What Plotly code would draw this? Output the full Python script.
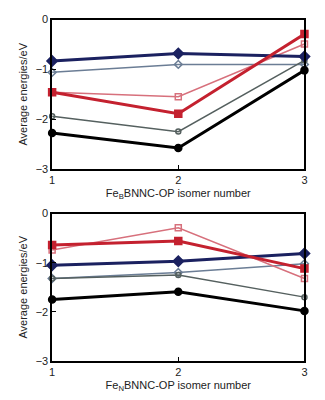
import plotly.graph_objects as go
from plotly.subplots import make_subplots

isomers = [1, 2, 3]

# Top panel (Fe_B BNNC-OP)
top_navy = [-0.83, -0.68, -0.74]
top_steel = [-1.06, -0.90, -0.90]
top_red = [-1.46, -1.89, -0.29]
top_pink = [-1.46, -1.55, -0.49]
top_gray = [-1.94, -2.25, -0.82]
top_black = [-2.28, -2.58, -1.02]

# Bottom panel (Fe_N BNNC-OP)
bot_navy = [-1.05, -0.97, -0.81]
bot_steel = [-1.32, -1.20, -1.02]
bot_red = [-0.64, -0.56, -1.12]
bot_pink = [-0.74, -0.29, -1.32]
bot_gray = [-1.32, -1.25, -1.70]
bot_black = [-1.75, -1.59, -1.98]

yticks = [0, -1, -2, -3]
ytick_text = ["0", "\u22121", "\u22122", "\u22123"]

styles = [
    # (color, width, symbol, size)
    ("#6b7d95", 1.5, "diamond-open", 6),   # steel
    ("#d7707c", 1.5, "square-open", 6),    # pink
    ("#55605f", 1.5, "circle-open", 5),    # gray
    ("#1b2160", 3, "diamond", 8),          # navy
    ("#c4212f", 3, "square", 7),           # red
    ("#000000", 3, "circle", 7),           # black
]

fig = make_subplots(rows=2, cols=1)

def add_panel(row, series):
    for (c, w, sym, sz), ys in zip(styles, series):
        fig.add_trace(go.Scatter(
            x=isomers, y=ys, mode="lines+markers",
            line=dict(color=c, width=w),
            marker=dict(symbol=sym, size=sz, color=c,
                        line=dict(color=c, width=1.5)),
            cliponaxis=False, showlegend=False), row=row, col=1)

add_panel(1, [top_steel, top_pink, top_gray, top_navy, top_red, top_black])
add_panel(2, [bot_steel, bot_pink, bot_gray, bot_navy, bot_red, bot_black])

font = dict(family="Liberation Sans, Arial, sans-serif", size=11, color="#222")
axis_common = dict(showline=True, mirror=True, linecolor="black", linewidth=1.5,
                   showgrid=False, zeroline=False, ticks="inside", ticklen=4,
                   tickcolor="black", tickfont=font)

fig.update_layout(
    width=325, height=400, margin=dict(l=0, r=0, t=0, b=0),
    paper_bgcolor="white", plot_bgcolor="white", font=font,
    xaxis=dict(domain=[0.154, 0.945], range=[1, 3], tickvals=isomers,
               title=dict(text="Fe<sub>B</sub>BNNC-OP isomer number", font=font, standoff=4),
               **axis_common),
    yaxis=dict(domain=[0.58, 0.965], range=[-3, 0], tickvals=yticks, ticktext=ytick_text,
               title=dict(text="Average energies/eV", font=font, standoff=6),
               **axis_common),
    xaxis2=dict(domain=[0.154, 0.945], range=[1, 3], tickvals=isomers,
                title=dict(text="Fe<sub>N</sub>BNNC-OP isomer number", font=font, standoff=4),
                **axis_common),
    yaxis2=dict(domain=[0.085, 0.465], range=[-3, 0], tickvals=yticks, ticktext=ytick_text,
                title=dict(text="Average energies/eV", font=font, standoff=6),
                **axis_common),
)

fig.write_html("out.html")
